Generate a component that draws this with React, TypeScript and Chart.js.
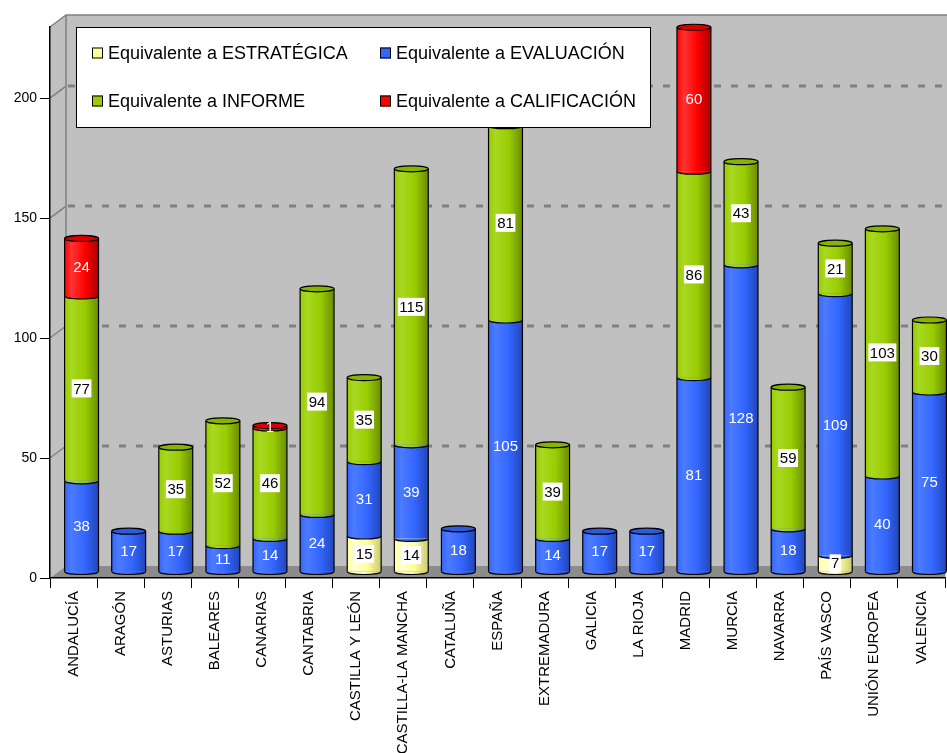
import { useEffect, useRef } from "react";
import { Chart, registerables } from "chart.js";

Chart.register(...registerables);

const categories = [
  "ANDALUCÍA", "ARAGÓN", "ASTURIAS", "BALEARES", "CANARIAS", "CANTABRIA",
  "CASTILLA Y LEÓN", "CASTILLA-LA MANCHA", "CATALUÑA", "ESPAÑA", "EXTREMADURA",
  "GALICIA", "LA RIOJA", "MADRID", "MURCIA", "NAVARRA", "PAÍS VASCO",
  "UNIÓN EUROPEA", "VALENCIA",
];

const seriesNames = [
  "Equivalente a ESTRATÉGICA",
  "Equivalente a EVALUACIÓN",
  "Equivalente a INFORME",
  "Equivalente a CALIFICACIÓN",
];

const estrategica = [0, 0, 0, 0, 0, 0, 15, 14, 0, 0, 0, 0, 0, 0, 0, 0, 7, 0, 0];
const evaluacion = [38, 17, 17, 11, 14, 24, 31, 39, 18, 105, 14, 17, 17, 81, 128, 18, 109, 40, 75];
const informe = [77, 0, 35, 52, 46, 94, 35, 115, 0, 81, 39, 0, 0, 86, 43, 59, 21, 103, 30];
const calificacion = [24, 0, 0, 0, 1, 0, 0, 0, 0, 0, 0, 0, 0, 60, 0, 0, 0, 0, 0];

const yTicks = [0, 50, 100, 150, 200];
const yMax = 229.6;

type Pal = { base: string; light: string; dark: string; cap: string; boxed: boolean };
const palettes: Pal[] = [
  { base: "#FFFF99", light: "#FFFFD2", dark: "#C9C97A", cap: "#E8E88C", boxed: true },
  { base: "#3366FF", light: "#4C7BFF", dark: "#2246B8", cap: "#2E5AE0", boxed: false },
  { base: "#99CC00", light: "#A9D822", dark: "#6A8C00", cap: "#87B400", boxed: true },
  { base: "#FF0000", light: "#FF3434", dark: "#A80000", cap: "#D80000", boxed: false },
];

const FONT = '"Liberation Sans", Arial, Helvetica, sans-serif';
const BAR_FRAC = 0.72;
const DX = 8;
const DY = -6;
const RY = 3;
const WALL_DX = 16;
const WALL_DY = 12;

function grad(ctx: CanvasRenderingContext2D, x0: number, x1: number, p: Pal) {
  const g = ctx.createLinearGradient(x0, 0, x1, 0);
  g.addColorStop(0, p.base);
  g.addColorStop(0.2, p.light);
  g.addColorStop(0.6, p.base);
  g.addColorStop(1, p.dark);
  return g;
}

const decorPlugin = {
  id: "decor3d",
  beforeDraw(chart: any) {
    const ctx: CanvasRenderingContext2D = chart.ctx;
    const { left, right, top, bottom } = chart.chartArea;
    const ys = chart.scales.y;
    const W = chart.width;
    ctx.save();
    // back wall
    ctx.fillStyle = "#C0C0C0";
    ctx.fillRect(left + WALL_DX, top - WALL_DY, W - (left + WALL_DX), bottom - top);
    // side wall
    ctx.beginPath();
    ctx.moveTo(left, top);
    ctx.lineTo(left + WALL_DX, top - WALL_DY);
    ctx.lineTo(left + WALL_DX, bottom - WALL_DY);
    ctx.lineTo(left, bottom);
    ctx.closePath();
    ctx.fill();
    // floor
    ctx.fillStyle = "#8C8C8C";
    ctx.beginPath();
    ctx.moveTo(left, bottom);
    ctx.lineTo(left + WALL_DX, bottom - WALL_DY);
    ctx.lineTo(W, bottom - WALL_DY);
    ctx.lineTo(right, bottom);
    ctx.closePath();
    ctx.fill();
    // wall edges
    ctx.strokeStyle = "#808080";
    ctx.lineWidth = 1.5;
    ctx.beginPath();
    ctx.moveTo(left, top);
    ctx.lineTo(left + WALL_DX, top - WALL_DY);
    ctx.lineTo(W, top - WALL_DY);
    ctx.moveTo(left + WALL_DX, top - WALL_DY);
    ctx.lineTo(left + WALL_DX, bottom - WALL_DY);
    ctx.stroke();
    // dashed gridlines
    ctx.strokeStyle = "#808080";
    ctx.lineWidth = 3;
    ctx.setLineDash([7, 10]);
    yTicks.forEach((v) => {
      if (v === 0) return;
      const py = ys.getPixelForValue(v);
      ctx.beginPath();
      ctx.moveTo(left + WALL_DX + 2, py - WALL_DY);
      ctx.lineTo(W, py - WALL_DY);
      ctx.stroke();
    });
    ctx.setLineDash([]);
    ctx.lineWidth = 1.5;
    yTicks.forEach((v) => {
      if (v === 0) return;
      const py = ys.getPixelForValue(v);
      ctx.beginPath();
      ctx.moveTo(left, py);
      ctx.lineTo(left + WALL_DX, py - WALL_DY);
      ctx.stroke();
    });
    ctx.restore();
  },
  beforeDatasetsDraw(chart: any) {
    chart.ctx.save();
    chart.ctx.translate(DX, DY);
  },
  afterDatasetsDraw(chart: any) {
    const ctx: CanvasRenderingContext2D = chart.ctx;
    const n = categories.length;
    const labels: any[] = [];
    for (let i = 0; i < n; i++) {
      const segs: any[] = [];
      chart.data.datasets.forEach((ds: any, di: number) => {
        const v = ds.data[i];
        if (v > 0) {
          const el = chart.getDatasetMeta(di).data[i];
          segs.push({ di, v, x: el.x, y: el.y, base: el.base, w: el.width });
        }
      });
      segs.forEach((s) => {
        ctx.beginPath();
        ctx.ellipse(s.x, s.base, s.w / 2, RY, 0, 0, Math.PI);
        ctx.fillStyle = grad(ctx, s.x - s.w / 2, s.x + s.w / 2, palettes[s.di]);
        ctx.fill();
      });
      ctx.strokeStyle = "#000";
      ctx.lineWidth = 1.2;
      segs.forEach((s) => {
        ctx.beginPath();
        ctx.moveTo(s.x - s.w / 2, s.y);
        ctx.lineTo(s.x - s.w / 2, s.base);
        ctx.moveTo(s.x + s.w / 2, s.y);
        ctx.lineTo(s.x + s.w / 2, s.base);
        ctx.stroke();
        ctx.beginPath();
        ctx.ellipse(s.x, s.base, s.w / 2, RY, 0, 0, Math.PI);
        ctx.stroke();
      });
      const t = segs[segs.length - 1];
      if (t) {
        const p = palettes[t.di];
        ctx.beginPath();
        ctx.ellipse(t.x, t.y, t.w / 2, RY, 0, 0, Math.PI * 2);
        ctx.fillStyle = p.cap;
        ctx.fill();
        ctx.stroke();
      }
      segs.forEach((s) => labels.push(s));
    }
    ctx.font = `15px ${FONT}`;
    ctx.textAlign = "center";
    ctx.textBaseline = "middle";
    labels.forEach((s) => {
      const p = palettes[s.di];
      const txt = String(s.v);
      const cy = (s.y + s.base) / 2;
      if (p.boxed) {
        const tw = ctx.measureText(txt).width;
        ctx.fillStyle = "#fff";
        ctx.fillRect(s.x - tw / 2 - 1.5, cy - 9, tw + 3, 18);
        ctx.fillStyle = "#000";
      } else {
        ctx.fillStyle = "#fff";
      }
      ctx.fillText(txt, s.x, cy + 1);
    });
    ctx.restore();
  },
  afterDraw(chart: any) {
    const ctx: CanvasRenderingContext2D = chart.ctx;
    ctx.save();
    ctx.fillStyle = "#fff";
    ctx.fillRect(76, 27, 575, 100);
    ctx.strokeStyle = "#000";
    ctx.lineWidth = 1;
    ctx.strokeRect(76.5, 27.5, 574, 100);
    const cols = [92, 380];
    const rows = [53, 101];
    ctx.font = `18px ${FONT}`;
    ctx.textAlign = "left";
    ctx.textBaseline = "middle";
    chart.data.datasets.forEach((ds: any, di: number) => {
      const cx = cols[di % 2];
      const cy = rows[Math.floor(di / 2)];
      ctx.fillStyle = palettes[di].base;
      ctx.fillRect(cx, cy - 5.5, 11, 11);
      ctx.strokeStyle = "#000";
      ctx.strokeRect(cx + 0.5, cy - 5, 10, 10);
      ctx.fillStyle = "#000";
      ctx.fillText(ds.label, cx + 16, cy + 1);
    });
    ctx.restore();
  },
};

export default function App() {
  const ref = useRef<HTMLCanvasElement | null>(null);
  useEffect(() => {
    if (!ref.current) return;
    const series = [estrategica, evaluacion, informe, calificacion];
    const chart = new Chart(ref.current, {
      type: "bar",
      data: {
        labels: categories,
        datasets: series.map((data, di) => ({
          label: seriesNames[di],
          data,
          stack: "s",
          clip: false as any,
          borderWidth: 0,
          backgroundColor: (c: any) => {
            const p = palettes[di];
            const ch = c.chart;
            const xs = ch.scales && ch.scales.x;
            if (!ch.chartArea || !xs || c.dataIndex === undefined) return p.base;
            const cx = xs.getPixelForValue(c.dataIndex);
            const w = ((ch.chartArea.right - ch.chartArea.left) / categories.length) * BAR_FRAC;
            return grad(ch.ctx, cx - w / 2, cx + w / 2, p);
          },
          categoryPercentage: 1,
          barPercentage: BAR_FRAC,
        })),
      },
      options: {
        responsive: false,
        animation: false,
        devicePixelRatio: 1,
        events: [],
        layout: { padding: { top: 27, right: 2, left: 0, bottom: 0 } },
        plugins: {
          legend: { display: false },
          tooltip: { enabled: false },
          title: { display: false },
        },
        scales: {
          x: {
            stacked: true,
            offset: true,
            grid: {
              display: true,
              offset: true,
              drawOnChartArea: false,
              drawTicks: true,
              tickLength: 10,
              color: "#000",
            },
            border: { display: true, color: "#000", width: 1.5 },
            ticks: {
              autoSkip: false,
              maxRotation: 90,
              minRotation: 90,
              padding: 3,
              color: "#000",
              font: { family: FONT, size: 15 },
            },
            afterFit: (scale: any) => {
              scale.height = 175;
            },
          },
          y: {
            stacked: true,
            min: 0,
            max: yMax,
            afterBuildTicks: (scale: any) => {
              scale.ticks = yTicks.map((v) => ({ value: v }));
            },
            grid: {
              display: true,
              drawOnChartArea: false,
              drawTicks: true,
              tickLength: 10,
              color: "#000",
            },
            border: { display: true, color: "#000", width: 1.5 },
            ticks: {
              padding: 3,
              color: "#000",
              font: { family: FONT, size: 14 },
            },
            afterFit: (scale: any) => {
              scale.width = 50;
            },
          },
        },
      },
      plugins: [decorPlugin],
    });
    return () => chart.destroy();
  }, []);
  return (
    <div style={{ position: "absolute", left: 0, top: 0, width: 947, height: 753, background: "#fff" }}>
      <canvas ref={ref} width={947} height={753} style={{ display: "block" }} />
    </div>
  );
}
